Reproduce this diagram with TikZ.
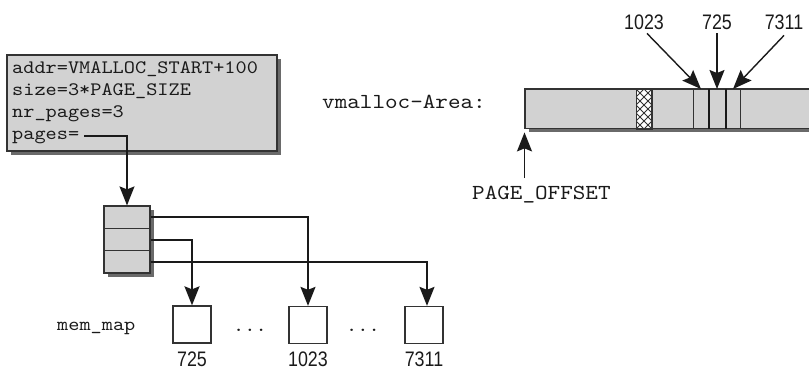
\documentclass[tikz,border=0pt]{standalone}
\usepackage{fontspec}
\setmonofont{lmmono10-regular.otf}[FakeStretch=1.12]
\newfontfamily\numfont[FakeStretch=0.85]{Liberation Sans}
\usetikzlibrary{arrows.meta,shadows}
\definecolor{boxgray}{HTML}{D2D2D2}
\definecolor{shadowgray}{HTML}{6A6A6A}
\definecolor{edgegray}{HTML}{333333}
\definecolor{inkblack}{HTML}{1A1A1A}
\begin{document}
\begin{tikzpicture}[x=1pt,y=-1pt,
  graybox/.style={draw=edgegray, line width=1.2pt, fill=boxgray, inner sep=0pt,
    drop shadow={shadow xshift=4pt,shadow yshift=-4pt,fill=shadowgray,opacity=1}},
  cellbox/.style={draw=edgegray, line width=1.1pt, fill=boxgray, inner sep=0pt,
    minimum width=46pt, minimum height=22.33pt},
  pagebox/.style={draw=edgegray, line width=1.3pt, fill=white, inner sep=0pt,
    minimum width=38pt, minimum height=37pt},
  barcell/.style={draw=edgegray, line width=1pt, fill=boxgray, inner sep=0pt,
    minimum height=39pt, anchor=north west},
  codetext/.style={font=\ttfamily\fontsize{19}{22}\selectfont, inner sep=0pt,
    text=inkblack, anchor=base west},
  labeltext/.style={font=\ttfamily\fontsize{21.4}{24}\selectfont, inner sep=0pt,
    text=inkblack, anchor=base west},
  numtext/.style={font=\numfont\fontsize{21}{24}\selectfont, inner sep=0pt,
    text=inkblack, anchor=base},
  ptr/.style={draw=inkblack, line width=1.6pt,
    -{Stealth[length=19pt,width=15pt,inset=3pt]}},
]
\useasboundingbox (0,0) rectangle (809,370);

% vm_struct box
\node[graybox, minimum width=270pt, minimum height=96pt] (vs) at (142,103) {};
\node[codetext] (l1) at (12,73) {addr=VMALLOC\_START+100};
\node[codetext] (l2) at (12,95.5) {size=3*PAGE\_SIZE};
\node[codetext] (l3) at (12,117) {nr\_pages=3};
\node[codetext] (l4) at (12,139) {pages=};
\coordinate (pgs) at (84,136);

% pages array
\node[graybox, minimum width=46pt, minimum height=67pt] (arr) at (127,239.5) {};
\node[cellbox] (c1) at (127,217.17) {};
\node[cellbox] (c2) at (127,239.5) {};
\node[cellbox] (c3) at (127,261.83) {};

% mem_map pages
\node[codetext] (mm) at (57,330) {mem\_map};
\node[pagebox] (m1) at (192,324.5) {};
\node[pagebox] (m2) at (308,325) {};
\node[pagebox] (m3) at (424,325) {};
\node[codetext, anchor=base] (d1) at (250,331) {...};
\node[codetext, anchor=base] (d2) at (363,331) {...};
\node[numtext] (n725) at (192,366.5) {725};
\node[numtext] (n1023) at (308,366.5) {1023};
\node[numtext] (n7311) at (424,366.5) {7311};

% connectors
\draw[ptr, line width=1.4pt] (pgs) -| (arr.north);
\draw[ptr, line width=1.4pt] (c1.east) -| (m2.north);
\draw[ptr, line width=2pt] (c2.east) -| (m1.north);
\draw[ptr, line width=1.4pt] (c3.east) -| ([xshift=3pt]m3.north);

% vmalloc area
\node[labeltext] (va) at (322,108) {vmalloc-Area:};
\node[fill=boxgray, inner sep=0pt, minimum width=284pt, minimum height=39pt,
  anchor=north west] (vbar) at (525,89) {};
\fill[shadowgray] ([xshift=4pt]vbar.south west) rectangle ([yshift=-4pt]vbar.south east);
\draw[edgegray, line width=1.2pt] (vbar.north east) -- (vbar.north west)
  -- (vbar.south west) -- (vbar.south east);

% hatched page
\node[barcell, fill=white, minimum width=15pt] (hatch) at (636,89) {};
\begin{scope}
  \clip (hatch.south west) rectangle (hatch.north east);
  \foreach \c in {-48,-40,...,24} {
    \draw[edgegray, line width=0.9pt] ([xshift=\c pt]hatch.north west) -- ++(50,50);
    \draw[edgegray, line width=0.9pt] ([xshift=-\c pt]hatch.north east) -- ++(-50,50);
  }
\end{scope}
\draw[edgegray, line width=1pt] (hatch.north west) rectangle (hatch.south east);

% mapped pages
\node[barcell, minimum width=15pt] (k1) at (693,89) {};
\node[barcell, minimum width=17pt] (k2) at (708,89) {};
\node[barcell, minimum width=15pt] (k3) at (725,89) {};
\draw[inkblack, line width=1.8pt] (k1.north east) -- (k1.south east);
\draw[inkblack, line width=1.8pt] (k2.north east) -- (k2.south east);

\node[numtext] (t1023) at (644,29) {1023};
\node[numtext] (t725) at (717,29) {725};
\node[numtext] (t7311) at (784,29) {7311};
\draw[ptr, line width=1.4pt] ([xshift=3pt,yshift=-4pt]t1023.south) -- (k1.north);
\draw[ptr, line width=1.4pt] ([yshift=-4pt]t725.south) -- (k2.north);
\draw[ptr, line width=1.4pt] ([yshift=-6pt]t7311.south) -- (k3.north);

% PAGE_OFFSET
\node[labeltext] (po) at (472,199) {PAGE\_OFFSET};
\coordinate (pofrom) at (524.5,178);
\draw[ptr, line width=1.4pt] (pofrom) -- ([xshift=-0.5pt,yshift=-4pt]vbar.south west);
\end{tikzpicture}
\end{document}
